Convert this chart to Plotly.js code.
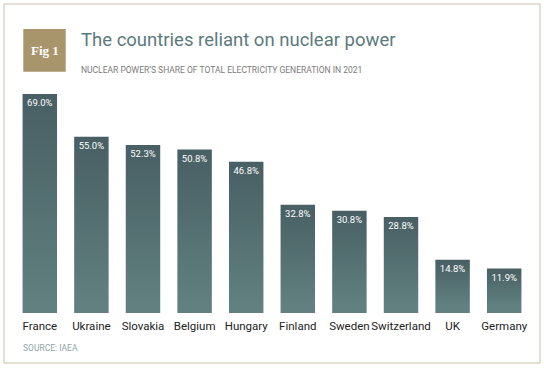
<!DOCTYPE html>
<html>
<head>
<meta charset="utf-8">
<script src="https://cdn.plot.ly/plotly-3.0.1.min.js"></script>
<style>html,body{margin:0;padding:0;background:#fff;}#chart{width:544px;height:370px;}</style>
</head>
<body>
<div id="chart"></div>
<script>
var countries = ["France", "Ukraine", "Slovakia", "Belgium", "Hungary", "Finland", "Sweden", "Switzerland", "UK", "Germany"];
var nuclearShare = [69.0, 55.0, 52.3, 50.8, 46.8, 32.8, 30.8, 28.8, 14.8, 11.9];
var baseStub = -2.6; // bars in the original run a little below zero

var NARROW = "Roboto, Liberation Sans, sans-serif";
var L = 14, R = 14, T = 85, B = 57, W = 544, H = 370;
var PW = W - L - R, PH = H - T - B;
function px(x) { return (x - L) / PW; }
function py(y) { return (H - B - y) / PH; }

var traces = [
  {
    type: "bar",
    x: countries,
    y: countries.map(function () { return baseStub; }),
    marker: { color: "#61807f", line: { width: 0 } },
    hoverinfo: "skip",
    textposition: "none",
    showlegend: false
  },
  {
    type: "bar",
    x: countries,
    y: nuclearShare,
    marker: { color: "#55716f", line: { width: 0 } },
    texttemplate: "%{y:.1f}%",
    textposition: "inside",
    insidetextanchor: "end",
    textangle: 0,
    constraintext: "none",
    textfont: { family: NARROW, size: 9.5, color: "#ffffff" },
    showlegend: false
  }
];

var layout = {
  width: W, height: H,
  margin: { l: L, r: R, t: T, b: B, pad: 0 },
  paper_bgcolor: "#ffffff",
  plot_bgcolor: "#ffffff",
  barmode: "relative",
  bargap: 0.332,
  showlegend: false,
  xaxis: {
    type: "category",
    showgrid: false, showline: false, zeroline: false,
    ticks: "",
    tickangle: 0,
    ticklabelstandoff: 4,
    tickfont: { family: NARROW, size: 11.5, color: "#222222" },
    fixedrange: true
  },
  yaxis: {
    range: [-2.6, 71.9],
    visible: false,
    showgrid: false, zeroline: false,
    fixedrange: true
  },
  shapes: [
    { type: "rect", xref: "paper", yref: "paper",
      x0: px(4), x1: px(540), y0: py(363), y1: py(4),
      line: { color: "#dcd6c6", width: 1.5 }, fillcolor: "rgba(0,0,0,0)", layer: "below" },
    { type: "rect", xref: "paper", yref: "paper",
      x0: px(23.3), x1: px(65.7), y0: py(71.7), y1: py(29),
      line: { width: 0 }, fillcolor: "#a8956b", layer: "below" }
  ],
  annotations: [
    { xref: "paper", yref: "paper", x: px(44.5), y: py(50.5), xanchor: "center", yanchor: "middle",
      text: "<b>Fig 1</b>", showarrow: false,
      font: { family: "Liberation Serif, DejaVu Serif, serif", size: 13, color: "#ffffff" } },
    { xref: "paper", yref: "paper", x: px(79), y: py(40), xanchor: "left", yanchor: "middle",
      text: "The countries reliant on nuclear power", showarrow: false,
      font: { family: NARROW, size: 18.5, color: "#5b7a7e" } },
    { xref: "paper", yref: "paper", x: px(79), y: py(70), xanchor: "left", yanchor: "middle",
      text: "NUCLEAR POWER\u2019S SHARE OF TOTAL ELECTRICITY GENERATION IN 2021", showarrow: false,
      font: { family: NARROW, size: 8.5, color: "#7a7a7a" } },
    { xref: "paper", yref: "paper", x: px(21), y: py(348), xanchor: "left", yanchor: "middle",
      text: "SOURCE: IAEA", showarrow: false,
      font: { family: NARROW, size: 8.5, color: "#8ea4a7" } }
  ]
};

Plotly.newPlot("chart", traces, layout, { displayModeBar: false, staticPlot: true }).then(function (gd) {
  var svg = gd.querySelector("svg.main-svg");
  var ns = "http://www.w3.org/2000/svg";
  var defs = svg.querySelector("defs") || svg.insertBefore(document.createElementNS(ns, "defs"), svg.firstChild);
  var lg = document.createElementNS(ns, "linearGradient");
  lg.setAttribute("id", "barGrad");
  lg.setAttribute("x1", "0"); lg.setAttribute("y1", "0");
  lg.setAttribute("x2", "0"); lg.setAttribute("y2", "1");
  [["0", "#485f63"], ["1", "#61807f"]].forEach(function (s) {
    var st = document.createElementNS(ns, "stop");
    st.setAttribute("offset", s[0]);
    st.setAttribute("stop-color", s[1]);
    lg.appendChild(st);
  });
  defs.appendChild(lg);
  var traceGroups = gd.querySelectorAll(".barlayer .trace");
  if (traceGroups.length > 1) {
    traceGroups[1].querySelectorAll("path").forEach(function (p) { p.style.fill = "url(#barGrad)"; });
  }
});
</script>
</body>
</html>
